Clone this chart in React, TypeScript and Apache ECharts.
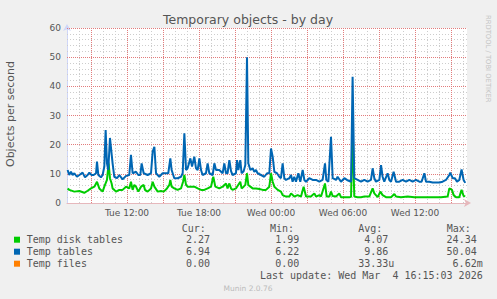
import React, { useEffect, useRef } from 'react';
import * as echarts from 'echarts';

// ---------- data ----------
const titleText = 'Temporary objects - by day';
const yAxisName = 'Objects per second';
const seriesNames = ['Temp disk tables', 'Temp tables', 'Temp files'];
const seriesColors = ['#00CC00', '#0066B3', '#FF8000'];
const curText = ['2.27', '6.94', '0.00'];
const minText = ['1.99', '6.22', '0.00'];
const avgText = ['4.07', '9.86', '33.33u'];
const maxText = ['24.34', '50.04', '6.62m'];
const lastUpdate = 'Last update: Wed Mar  4 16:15:03 2026';
const muninVersion = 'Munin 2.0.76';
const watermark = 'RRDTOOL / TOBI OETIKER';

// hours since Tue 00:00
const xStart = 7;
const xEnd = 40.3333;
const xTickHours = [12, 18, 24, 30, 36];
const xTickLabels = ['Tue 12:00', 'Tue 18:00', 'Wed 00:00', 'Wed 06:00', 'Wed 12:00'];
const xMajorStep = 3; // hours between red grid lines
const xMinorStep = 1; // hours between grey grid lines
const yMajorStep = 10;
const yMinorStep = 2;
const yMax = 60;

const tablesHours = [
  7.05, 7.19, 7.33, 7.47, 7.61, 7.83, 8.03, 8.3, 8.5, 8.72, 8.86, 9.05, 9.22, 9.42, 9.5, 9.61, 9.83, 9.97,
  10.11, 10.22, 10.33, 10.44, 10.58, 10.8, 10.94, 11.17, 11.36, 11.63, 11.92, 12.19, 12.33, 12.47, 12.75,
  12.94, 13.11, 13.22, 13.39, 13.72, 14.0, 14.14, 14.28, 14.42, 14.69, 14.97, 15.25, 15.44, 15.61, 15.72,
  15.94, 16.22, 16.5, 16.64, 16.78, 16.92, 17.05, 17.28, 17.42, 17.61, 17.75, 17.89, 18.03, 18.17, 18.3,
  18.58, 18.72, 18.86, 19.14, 19.28, 19.42, 19.69, 19.97, 20.11, 20.25, 20.38, 20.53, 20.67, 20.8, 21.08,
  21.17, 21.28, 21.44, 21.55, 21.72, 21.86, 22.0, 22.11, 22.28, 22.47, 22.61, 22.75, 22.88, 23.17, 23.44,
  23.67, 23.86, 24.0, 24.14, 24.28, 24.5, 24.69, 24.83, 24.97, 25.11, 25.25, 25.53, 25.67, 25.8, 25.94,
  26.08, 26.28, 26.44, 26.64, 26.78, 26.92, 27.19, 27.47, 27.75, 28.03, 28.3, 28.5, 28.61, 28.78, 29.0,
  29.14, 29.42, 29.55, 29.83, 30.11, 30.33, 30.67, 30.8, 30.94, 31.22, 31.5, 31.78, 32.05, 32.33, 32.47,
  32.61, 32.75, 33.03, 33.17, 33.3, 33.44, 33.72, 33.86, 34.0, 34.22, 34.42, 34.69, 34.97, 35.25, 35.53,
  35.8, 36.08, 36.36, 36.55, 36.78, 36.92, 37.19, 37.47, 37.75, 38.03, 38.3, 38.58, 38.86, 38.94, 39.14,
  39.33, 39.5, 39.69, 39.88, 40.05, 40.19,
];
const tablesValues = [
  11.3, 9.6, 10.7, 9.6, 10.2, 9.0, 9.6, 10.4, 8.8, 9.6, 10.4, 9.6, 9.6, 10.2, 14.2, 9.6, 8.8, 9.6,
  12.5, 25.0, 13.6, 11.3, 22.3, 13.6, 9.0, 8.5, 9.6, 8.1, 9.3, 9.6, 16.5, 10.2, 10.7,
  9.6, 9.6, 13.6, 10.2, 9.6, 10.2, 17.6, 19.3, 10.2, 9.0, 10.2, 10.2, 10.2, 15.3, 11.3,
  8.5, 8.5, 9.0, 10.2, 23.9, 11.3, 11.9, 15.3, 12.5, 15.9, 11.9, 11.3, 15.3, 11.3, 9.6,
  10.2, 13.6, 10.2, 9.6, 13.6, 11.3, 11.3, 10.2, 13.6, 10.2, 10.2, 14.7, 10.9, 9.6, 10.2,
  14.7, 11.3, 14.7, 10.2, 10.9, 13.0, 50.0, 13.6, 11.3, 11.9, 10.7, 11.3, 10.2, 9.6, 9.0,
  10.2, 10.2, 18.7, 15.9, 10.7, 10.2, 9.0, 8.5, 13.6, 8.5, 7.9, 8.5, 9.6, 7.3, 9.0,
  7.3, 10.2, 7.3, 11.3, 7.9, 7.3, 8.5, 7.9, 7.9, 7.3, 7.9, 13.6, 7.9, 7.3, 22.7,
  8.5, 7.9, 9.0, 7.3, 8.5, 7.9, 7.3, 43.3, 8.5, 7.9, 7.3, 7.9, 7.3, 7.9, 11.9,
  8.5, 7.3, 7.9, 13.0, 9.0, 7.3, 10.2, 7.9, 7.3, 10.7, 7.3, 7.3, 7.9, 7.3, 7.9,
  7.3, 7.9, 7.3, 7.3, 10.2, 7.3, 7.3, 7.0, 7.0, 7.0, 7.3, 7.9, 9.6, 10.4, 8.5,
  8.5, 7.3, 7.9, 11.5, 7.9, 6.9,
];

const diskHours = [
  7.05, 7.19, 7.61, 8.03, 8.44, 8.72, 9.0, 9.28, 9.5, 9.69, 9.97, 10.11, 10.33, 10.47, 10.58, 10.72, 10.8,
  10.94, 11.08, 11.36, 11.63, 11.92, 12.19, 12.33, 12.47, 12.61, 12.75, 12.94, 13.17, 13.39, 13.5, 13.72,
  14.0, 14.14, 14.28, 14.56, 14.83, 15.06, 15.33, 15.53, 15.61, 15.72, 15.94, 16.22, 16.5, 16.67, 16.78,
  16.92, 17.05, 17.33, 17.61, 17.89, 18.17, 18.44, 18.72, 19.0, 19.19, 19.36, 19.69, 19.97, 20.25, 20.38,
  20.53, 20.67, 20.8, 21.08, 21.44, 21.55, 21.72, 21.86, 22.0, 22.11, 22.28, 22.47, 22.75, 23.03, 23.31,
  23.58, 23.86, 24.0, 24.14, 24.28, 24.56, 24.83, 24.97, 25.25, 25.53, 25.67, 25.94, 26.22, 26.5, 26.72,
  26.92, 27.05, 27.33, 27.61, 27.75, 28.03, 28.17, 28.5, 28.64, 28.86, 29.0, 29.14, 29.42, 29.69, 29.83,
  30.11, 30.53, 30.67, 30.8, 30.94, 31.22, 31.5, 31.78, 32.19, 32.47, 32.61, 32.89, 33.11, 33.3, 33.58,
  34.0, 34.28, 34.42, 34.83, 35.39, 35.94, 36.5, 37.06, 37.61, 38.17, 38.72, 38.86, 39.08, 39.22, 39.42,
  39.69, 39.88, 40.05, 40.19,
];
const diskValues = [
  5.0, 4.5, 3.9, 4.1, 3.5, 4.2, 5.0, 5.6, 7.3, 5.0, 3.9, 5.6, 7.9, 13.6, 8.5, 6.7, 5.0,
  4.5, 3.9, 4.5, 4.5, 5.6, 5.0, 7.3, 4.5, 6.2, 5.6, 3.9, 5.6, 6.2, 4.5, 3.9,
  5.0, 7.3, 5.6, 3.9, 4.1, 3.9, 5.0, 6.2, 7.9, 5.6, 5.0, 4.5, 5.0, 7.3, 9.6,
  6.2, 5.6, 5.6, 5.6, 5.0, 4.5, 4.5, 5.0, 5.6, 9.0, 5.6, 5.0, 5.6, 6.7, 5.0,
  6.7, 5.0, 4.5, 5.0, 7.3, 5.0, 5.6, 6.2, 10.2, 6.2, 5.6, 5.0, 5.0, 4.8, 4.5,
  4.5, 5.6, 10.2, 7.3, 5.6, 4.5, 3.9, 2.7, 2.2, 2.2, 3.3, 2.2, 2.7, 2.2, 5.6,
  2.2, 2.2, 2.2, 3.3, 2.2, 2.7, 2.2, 6.7, 2.2, 2.2, 3.9, 2.4, 2.2, 3.3, 2.0,
  2.0, 2.0, 2.1, 24.3, 2.2, 2.0, 2.0, 2.2, 2.2, 5.0, 3.3, 2.0, 3.9, 2.7, 2.0,
  2.0, 3.1, 2.2, 2.0, 2.2, 2.0, 2.0, 2.0, 2.0, 2.0, 2.2, 5.0, 4.5, 2.7, 2.0,
  2.0, 4.5, 2.4, 2.3,
];

const filesHours = [7.05, 40.19];
const filesValues = [0, 0];

// ---------- styles ----------
const SANS = 'DejaVu Sans';
const MONO = 'DejaVu Sans Mono';
const TXT = '#555555';
const MINOR = '#CDCDCD';
const MAJOR = '#E27C7C';
const AXIS = '#CFD6F8';

function txt(text: string, x: number, y: number, o: any = {}) {
  return {
    type: 'text',
    x,
    y,
    rotation: o.rotation || 0,
    silent: true,
    style: {
      text,
      x: 0,
      y: 0,
      fill: o.fill || TXT,
      fontSize: o.fontSize || 10,
      fontFamily: o.fontFamily || MONO,
      align: o.align || 'left',
      verticalAlign: 'middle',
      textAlign: o.align || 'left',
      textVerticalAlign: 'middle',
    },
  };
}

function buildGraphic() {
  const g: any[] = [];
  g.push(txt(titleText, 248, 19, { fontFamily: SANS, fontSize: 12.5, align: 'center' }));
  g.push(txt(yAxisName, 10, 114, { fontFamily: SANS, fontSize: 11, align: 'center', rotation: Math.PI / 2 }));
  g.push(txt(watermark, 488, 15, { fontFamily: SANS, fontSize: 6.8, fill: '#C4C4C4', rotation: -Math.PI / 2 }));
  g.push(txt('Cur:', 181.7, 228.5));
  g.push(txt('Min:', 270, 228.5));
  g.push(txt('Avg:', 358.3, 228.5));
  g.push(txt('Max:', 446.7, 228.5));
  const unitShift = (s: string) => (/[a-zA-Z]$/.test(s) ? 6 : 0);
  seriesNames.forEach((name, i) => {
    const y = 239.7 + 12 * i;
    g.push({
      type: 'rect',
      silent: true,
      shape: { x: 14, y: y - 3, width: 6, height: 6 },
      style: { fill: seriesColors[i] },
    });
    g.push(txt(name, 26.7, y));
    g.push(txt(curText[i], 210 + unitShift(curText[i]), y, { align: 'right' }));
    g.push(txt(minText[i], 299.3 + unitShift(minText[i]), y, { align: 'right' }));
    g.push(txt(avgText[i], 388.3 + unitShift(avgText[i]), y, { align: 'right' }));
    g.push(txt(maxText[i], 476.7 + unitShift(maxText[i]), y, { align: 'right' }));
  });
  g.push(txt(lastUpdate, 482.7, 275.7, { align: 'right' }));
  g.push(txt(muninVersion, 248, 288, { fontFamily: SANS, fontSize: 7.5, fill: '#BBBBBB', align: 'center' }));
  return g;
}

function gridLines() {
  const minor: any[] = [];
  const major: any[] = [];
  const minorStyle = { color: MINOR, type: [1, 2], width: 1 };
  const majorStyle = { color: MAJOR, type: [1, 1], width: 1 };
  for (let h = Math.ceil(xStart); h <= xEnd; h += xMinorStep) {
    if (h % xMajorStep === 0) major.push({ xAxis: h, lineStyle: majorStyle });
    else if (h > xStart) minor.push({ xAxis: h, lineStyle: minorStyle });
  }
  for (let v = yMinorStep; v <= yMax; v += yMinorStep) {
    if (v % yMajorStep === 0) major.push({ yAxis: v, lineStyle: majorStyle });
    else minor.push({ yAxis: v, lineStyle: minorStyle });
  }
  return [...minor, ...major];
}

function buildOption(): any {
  const pairs = (hs: number[], vs: number[]) => hs.map((h, i) => [h, vs[i]]);
  const lineSeries = (i: number, hs: number[], vs: number[], z: number, width: number, opacity = 1) => ({
    name: seriesNames[i],
    type: 'line',
    xAxisIndex: 0,
    yAxisIndex: 0,
    data: pairs(hs, vs),
    symbol: 'none',
    silent: true,
    z,
    lineStyle: { color: seriesColors[i], width, opacity },
  });
  const filesSeries: any = lineSeries(2, filesHours, filesValues, 2, 1, 0);
  filesSeries.markLine = {
    silent: true,
    z: 1,
    symbol: ['none', 'none'],
    label: { show: false },
    lineStyle: { color: MINOR, type: [1, 2], width: 1, opacity: 1 },
    data: gridLines(),
  };
  return {
    animation: false,
    backgroundColor: '#F0F0F0',
    grid: {
      left: 67,
      top: 28,
      width: 400,
      height: 175,
      show: true,
      backgroundColor: '#FFFFFF',
      borderWidth: 0,
      containLabel: false,
    },
    xAxis: [
      {
        type: 'value',
        min: xStart,
        max: xEnd,
        interval: 1,
        axisLine: {
          show: true,
          lineStyle: { color: '#E6B8BC', width: 1 },
          symbol: ['none', 'arrow'],
          symbolSize: [6, 7],
          symbolOffset: [0, 4],
        },
        axisTick: { show: false },
        splitLine: { show: false },
        axisLabel: {
          margin: 5,
          color: TXT,
          fontFamily: SANS,
          fontSize: 9,
          formatter: (v: number) => {
            const k = xTickHours.findIndex((h) => Math.abs(h - v) < 1e-6);
            return k >= 0 ? xTickLabels[k] : '';
          },
        },
      },
    ],
    yAxis: [
      {
        type: 'value',
        min: 0,
        max: yMax,
        interval: yMajorStep,
        axisLine: {
          show: true,
          lineStyle: { color: AXIS, width: 1 },
          symbol: ['none', 'arrow'],
          symbolSize: [6, 7],
          symbolOffset: [0, 4],
        },
        axisTick: { show: false },
        splitLine: { show: false },
        axisLabel: { margin: 6, color: TXT, fontFamily: SANS, fontSize: 9 },
      },
    ],
    series: [
      filesSeries,
      lineSeries(0, diskHours, diskValues, 3, 2),
      lineSeries(1, tablesHours, tablesValues, 4, 2),
    ],
    graphic: buildGraphic(),
  };
}

export default function App() {
  const ref = useRef<HTMLDivElement>(null);
  useEffect(() => {
    document.body.style.margin = '0';
    document.body.style.background = '#F0F0F0';
    const chart = echarts.init(ref.current!, null, { renderer: 'svg' });
    chart.setOption(buildOption());
    return () => chart.dispose();
  }, []);
  return <div ref={ref} style={{ width: 497, height: 299, background: '#F0F0F0' }} />;
}
